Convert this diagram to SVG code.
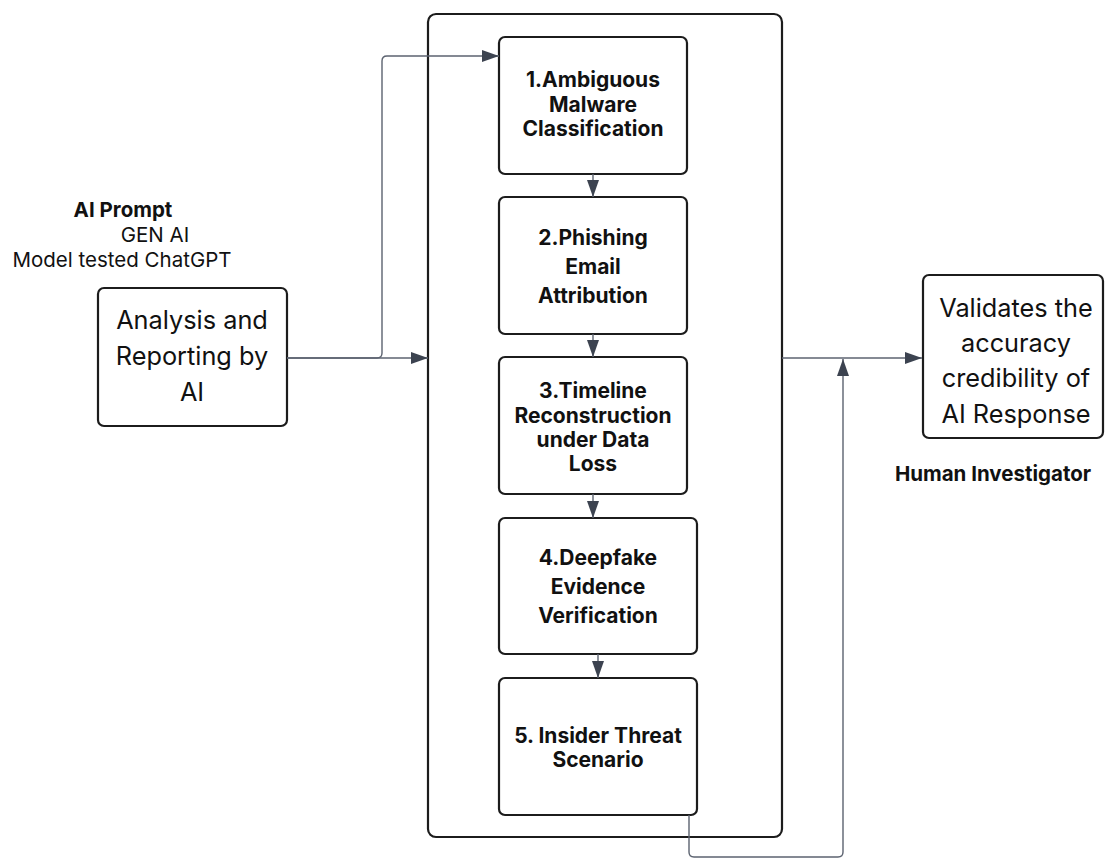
<svg xmlns="http://www.w3.org/2000/svg" width="1105" height="859" viewBox="0 0 1105 859">
<style>
.box{fill:#ffffff;stroke:#1c1c1c;stroke-width:2.2}
.con{fill:none;stroke:#5c6370;stroke-width:1.4}
.bt{font-family:Inter,"Liberation Sans",sans-serif;font-weight:700;font-size:21px;fill:#111;text-anchor:middle}
.rt{font-family:Inter,"Liberation Sans",sans-serif;font-weight:400;font-size:25.3px;fill:#111;text-anchor:middle}
.lb{font-family:Inter,"Liberation Sans",sans-serif;font-weight:700;font-size:20.5px;fill:#111;text-anchor:middle}
.lr{font-family:Inter,"Liberation Sans",sans-serif;font-weight:400;font-size:20.5px;fill:#111;text-anchor:middle}
</style>
<defs>
<marker id="ah" markerWidth="18" markerHeight="14" refX="17" refY="7" orient="auto" markerUnits="userSpaceOnUse">
<path d="M0,1 L17,7 L0,13 Z" fill="#3c4350"/>
</marker>
</defs>
<rect width="1105" height="859" fill="#ffffff"/>

<g id="container">
<rect class="box" x="428" y="14" width="354" height="823" rx="8"/>
</g>

<g id="labels">
<text class="lb" x="123" y="217">AI Prompt</text>
<text class="lr" x="155" y="242">GEN AI</text>
<text class="lr" x="122" y="267">Model tested ChatGPT</text>
<text class="lb" x="993" y="481">Human Investigator</text>
</g>

<g id="node-analysis">
<rect class="box" x="98" y="288" width="189" height="138" rx="6"/>
<text class="rt" x="192" y="329">Analysis and</text>
<text class="rt" x="192" y="365">Reporting by</text>
<text class="rt" x="192" y="401">AI</text>
</g>

<g id="node-1">
<rect class="box" x="499" y="37" width="188" height="137" rx="6"/>
<text class="bt" x="593" y="87">1.Ambiguous</text>
<text class="bt" x="593" y="112">Malware</text>
<text class="bt" x="593" y="136">Classification</text>
</g>

<g id="node-2">
<rect class="box" x="499" y="197" width="188" height="137" rx="6"/>
<text class="bt" x="593" y="245">2.Phishing</text>
<text class="bt" x="593" y="274">Email</text>
<text class="bt" x="593" y="303">Attribution</text>
</g>

<g id="node-3">
<rect class="box" x="499" y="357" width="188" height="137" rx="6"/>
<text class="bt" x="593" y="398">3.Timeline</text>
<text class="bt" x="593" y="423">Reconstruction</text>
<text class="bt" x="593" y="447">under Data</text>
<text class="bt" x="593" y="471">Loss</text>
</g>

<g id="node-4">
<rect class="box" x="499" y="518" width="198" height="136" rx="6"/>
<text class="bt" x="598" y="565">4.Deepfake</text>
<text class="bt" x="598" y="594">Evidence</text>
<text class="bt" x="598" y="623">Verification</text>
</g>

<g id="node-5">
<rect class="box" x="499" y="678" width="198" height="137" rx="6"/>
<text class="bt" x="598" y="743">5. Insider Threat</text>
<text class="bt" x="598" y="767">Scenario</text>
</g>

<g id="node-validates">
<rect class="box" x="923" y="275" width="180" height="163" rx="6"/>
<text class="rt" x="1016" y="317">Validates the</text>
<text class="rt" x="1016" y="352">accuracy</text>
<text class="rt" x="1016" y="387">credibility of</text>
<text class="rt" x="1016" y="423">AI Response</text>
</g>

<g id="connectors">
<path class="con" d="M287,358 H428" marker-end="url(#ah)"/>
<path class="con" d="M287,358 H377 Q382,358 382,353 V61 Q382,56 387,56 H499" marker-end="url(#ah)"/>
<path class="con" d="M593,174 V197" marker-end="url(#ah)"/>
<path class="con" d="M593,334 V357" marker-end="url(#ah)"/>
<path class="con" d="M593,494 V518" marker-end="url(#ah)"/>
<path class="con" d="M598,654 V678" marker-end="url(#ah)"/>
<path class="con" d="M782,358 H922" marker-end="url(#ah)"/>
<path class="con" d="M689,815 V852 Q689,857 694,857 H838 Q843,857 843,852 V359" marker-end="url(#ah)"/>
</g>
</svg>
